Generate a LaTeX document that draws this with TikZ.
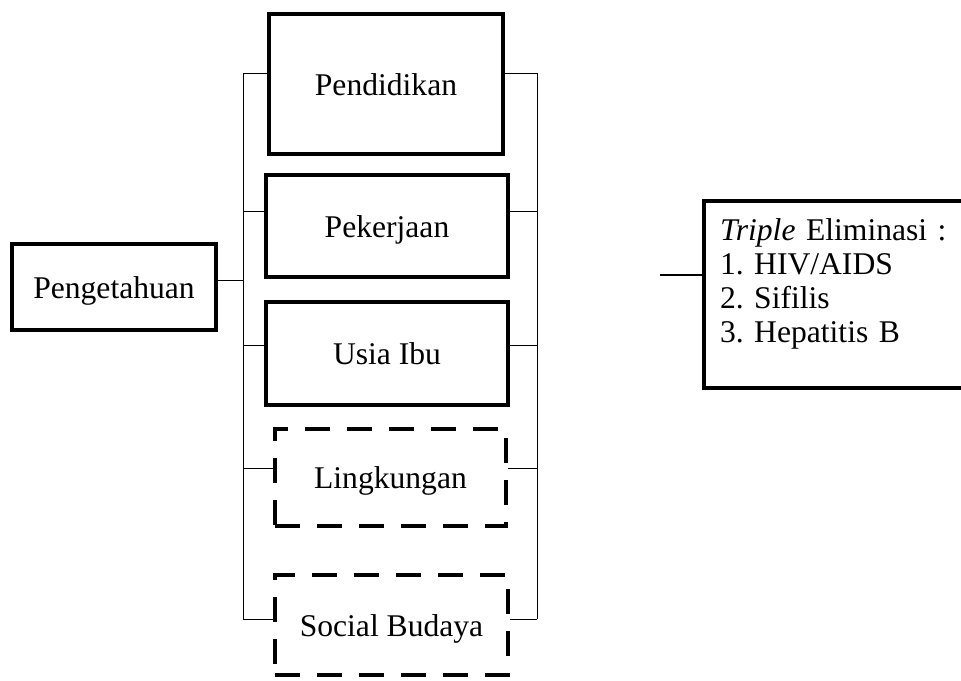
\documentclass[tikz,border=0pt]{standalone}
\usepackage{fontspec}
\setmainfont{Liberation Serif}
\frenchspacing

\begin{document}
\begin{tikzpicture}[x=0.5pt, y=-0.5pt,
    font=\fontsize{15.8}{17}\selectfont,
    box/.style={draw, line width=2pt, inner sep=0pt, text height=1.16em, text depth=0.04em},
    dbox/.style={box, dash pattern=on 12.5pt off 8.5pt},
    bus/.style={line width=0.5pt}]
  \useasboundingbox (0,0) rectangle (961,680);
  \clip (0,0) rectangle (961,680);

  \node[box, minimum width=102pt, minimum height=43pt]   (peng) at (114,287)   {Pengetahuan};
  \node[box, minimum width=117pt, minimum height=70pt]   (pend) at (386,84)    {Pendidikan};
  \node[box, minimum width=121pt, minimum height=51pt]   (pek)  at (387,226)   {Pekerjaan};
  \node[box, minimum width=121pt, minimum height=51.5pt] (usia) at (387,353.5) {Usia Ibu};
  \node[dbox, minimum width=115.5pt, minimum height=48.5pt] (ling) at (390.5,477.5) {Lingkungan};
  \node[dbox, minimum width=116.5pt, minimum height=50pt]   (soc)  at (391.5,625)   {Social Budaya};

  \node[box, anchor=north west, minimum width=145pt, minimum height=93.5pt,
        text width=130pt, align=left, inner xsep=8pt, text height=, text depth=]
        (trip) at (702,199)
        {\textit{Triple} Eliminasi :\\1. HIV/AIDS\\2. Sifilis\\3. Hepatitis B\\[-3pt]\mbox{}};

  % cabang kiri dan kanan
  \foreach \n/\y in {pend/73, pek/211, usia/345, ling/468, soc/619} {
    \coordinate (l\n) at (243,\y);
    \coordinate (r\n) at (537,\y);
    \draw[bus] (l\n) -- (l\n -| \n.west);
    \draw[bus] (r\n -| \n.east) -- (r\n);
  }
  \draw[bus] (lpend) -- (lsoc);
  \draw[bus] (rpend) -- (rsoc);

  \coordinate (lpeng) at (243,280);
  \draw[bus] (lpeng -| peng.east) -- (lpeng);

  \coordinate (ltrip) at (660,275);
  \draw[line width=1pt] (ltrip) -- (ltrip -| trip.west);
\end{tikzpicture}
\end{document}
